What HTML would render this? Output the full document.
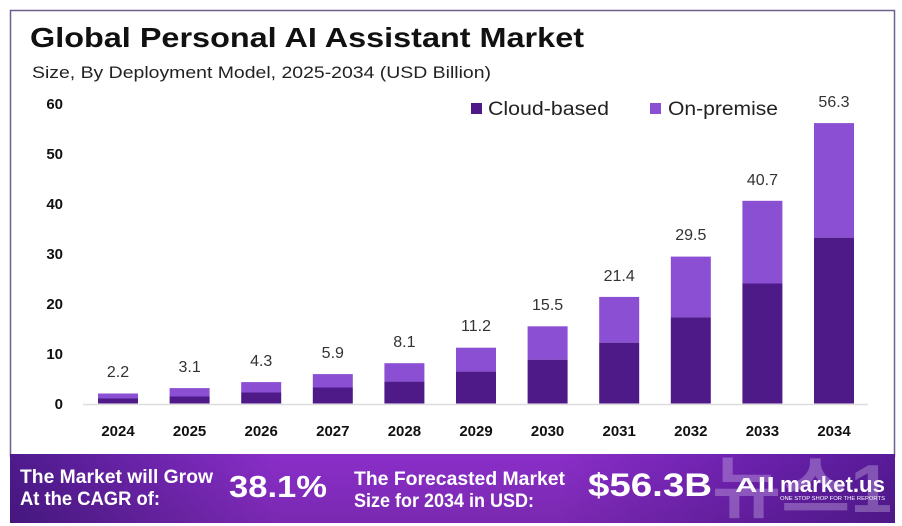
<!DOCTYPE html>
<html><head><meta charset="utf-8"><style>
html,body{margin:0;padding:0;background:#fff;}
svg{display:block;}
text{font-family:"Liberation Sans","Noto Sans CJK KR",sans-serif;}
</style></head><body>
<svg width="902" height="526" viewBox="0 0 902 526" xmlns="http://www.w3.org/2000/svg">
<defs>
<linearGradient id="band" x1="0" y1="0" x2="1" y2="0">
<stop offset="0" stop-color="#4e1a8e"/>
<stop offset="0.3" stop-color="#8a2ec9"/>
<stop offset="0.62" stop-color="#8a2ec8"/>
<stop offset="0.85" stop-color="#6a20ac"/>
<stop offset="1" stop-color="#571b98"/>
</linearGradient>
<linearGradient id="bandv" x1="0" y1="0" x2="0" y2="1">
<stop offset="0" stop-color="#000" stop-opacity="0"/>
<stop offset="1" stop-color="#000" stop-opacity="0.12"/>
</linearGradient>
</defs>
<rect x="0" y="0" width="902" height="526" fill="#fff"/>
<rect x="10.5" y="10.5" width="884" height="446" fill="#fff" stroke="#6e5f8c" stroke-width="1.5"/>

<text x="30" y="47" font-size="28" font-weight="bold" fill="#111" textLength="554" lengthAdjust="spacingAndGlyphs">Global Personal AI Assistant Market</text>
<text x="32" y="78" font-size="17" fill="#222" textLength="459" lengthAdjust="spacingAndGlyphs">Size, By Deployment Model, 2025-2034 (USD Billion)</text>

<g font-size="15" font-weight="bold" fill="#111" text-anchor="end">
<text x="63" y="109">60</text>
<text x="63" y="159">50</text>
<text x="63" y="209">40</text>
<text x="63" y="259">30</text>
<text x="63" y="309">20</text>
<text x="63" y="359">10</text>
<text x="63" y="409">0</text>
</g>

<line x1="83" y1="404.5" x2="868" y2="404.5" stroke="#ddd" stroke-width="1.5"/>

<rect x="471" y="103" width="11" height="11" fill="#4d1a88"/>
<text x="488" y="115" font-size="19" fill="#222" textLength="121" lengthAdjust="spacingAndGlyphs">Cloud-based</text>
<rect x="650" y="103" width="11" height="11" fill="#8a4fd3"/>
<text x="668" y="115" font-size="19" fill="#222" textLength="110" lengthAdjust="spacingAndGlyphs">On-premise</text>

<g id="bars">
<rect x="98" y="393.5" width="40" height="5.0" fill="#8a4fd3"/><rect x="98" y="398.5" width="40" height="5.0" fill="#4d1a88"/>
<rect x="169.6" y="388.1" width="40" height="8.4" fill="#8a4fd3"/><rect x="169.6" y="396.5" width="40" height="7.0" fill="#4d1a88"/>
<rect x="241.2" y="382.1" width="40" height="10.4" fill="#8a4fd3"/><rect x="241.2" y="392.5" width="40" height="11.0" fill="#4d1a88"/>
<rect x="312.8" y="374.1" width="40" height="13.4" fill="#8a4fd3"/><rect x="312.8" y="387.5" width="40" height="16.0" fill="#4d1a88"/>
<rect x="384.4" y="363.2" width="40" height="18.4" fill="#8a4fd3"/><rect x="384.4" y="381.6" width="40" height="21.9" fill="#4d1a88"/>
<rect x="456" y="347.7" width="40" height="23.9" fill="#8a4fd3"/><rect x="456" y="371.6" width="40" height="31.9" fill="#4d1a88"/>
<rect x="527.6" y="326.3" width="40" height="33.4" fill="#8a4fd3"/><rect x="527.6" y="359.7" width="40" height="43.8" fill="#4d1a88"/>
<rect x="599.2" y="296.9" width="40" height="45.8" fill="#8a4fd3"/><rect x="599.2" y="342.7" width="40" height="60.8" fill="#4d1a88"/>
<rect x="670.8" y="256.6" width="40" height="60.8" fill="#8a4fd3"/><rect x="670.8" y="317.4" width="40" height="86.1" fill="#4d1a88"/>
<rect x="742.4" y="200.8" width="40" height="82.7" fill="#8a4fd3"/><rect x="742.4" y="283.5" width="40" height="120.0" fill="#4d1a88"/>
<rect x="814" y="123.1" width="40" height="114.6" fill="#8a4fd3"/><rect x="814" y="237.7" width="40" height="165.8" fill="#4d1a88"/>
</g>

<g font-size="16" fill="#333" text-anchor="middle">
<text x="118" y="377">2.2</text>
<text x="189.6" y="372">3.1</text>
<text x="261.2" y="366">4.3</text>
<text x="332.8" y="358">5.9</text>
<text x="404.4" y="347">8.1</text>
<text x="476" y="331">11.2</text>
<text x="547.6" y="310">15.5</text>
<text x="619.2" y="281">21.4</text>
<text x="690.8" y="240">29.5</text>
<text x="762.4" y="185">40.7</text>
<text x="834" y="107">56.3</text>
</g>

<g font-size="15" font-weight="bold" fill="#111" text-anchor="middle">
<text x="118" y="436">2024</text>
<text x="189.6" y="436">2025</text>
<text x="261.2" y="436">2026</text>
<text x="332.8" y="436">2027</text>
<text x="404.4" y="436">2028</text>
<text x="476" y="436">2029</text>
<text x="547.6" y="436">2030</text>
<text x="619.2" y="436">2031</text>
<text x="690.8" y="436">2032</text>
<text x="762.4" y="436">2033</text>
<text x="834" y="436">2034</text>
</g>

<rect x="10" y="454" width="885" height="69" fill="url(#band)"/>
<rect x="10" y="454" width="885" height="69" fill="url(#bandv)"/>

<g fill="#fff" font-weight="bold">
<text x="20" y="483" font-size="19" textLength="193" lengthAdjust="spacingAndGlyphs">The Market will Grow</text>
<text x="20" y="505" font-size="19" textLength="140" lengthAdjust="spacingAndGlyphs">At the CAGR of:</text>
<text x="229" y="497" font-size="31" textLength="98" lengthAdjust="spacingAndGlyphs">38.1%</text>
<text x="354" y="485" font-size="19" textLength="211" lengthAdjust="spacingAndGlyphs">The Forecasted Market</text>
<text x="354" y="507" font-size="19" textLength="180" lengthAdjust="spacingAndGlyphs">Size for 2034 in USD:</text>
<text x="588" y="496" font-size="32" textLength="124" lengthAdjust="spacingAndGlyphs">$56.3B</text>
<text x="735" y="492" font-size="20" textLength="40" lengthAdjust="spacingAndGlyphs">All</text>
<text x="780" y="492" font-size="22" textLength="105" lengthAdjust="spacingAndGlyphs">market.us</text>
<text x="780" y="500" font-size="5" font-weight="normal" textLength="105" lengthAdjust="spacingAndGlyphs">ONE STOP SHOP FOR THE REPORTS</text>
</g>
<text x="712" y="512" font-size="68" font-weight="bold" fill="#e8dcf8" fill-opacity="0.3" textLength="180" lengthAdjust="spacingAndGlyphs">뉴스1</text>
</svg>
</body></html>
